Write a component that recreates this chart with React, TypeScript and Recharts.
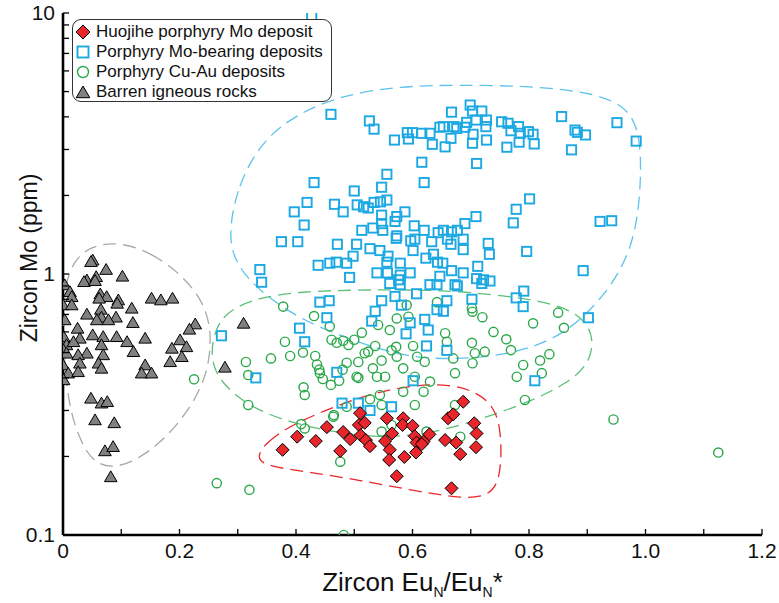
import React from 'react';
import { ScatterChart, Scatter, XAxis, YAxis, Legend, Label } from 'recharts';

// ---------------- data (x = Zircon EuN/EuN*, y = Zircon Mo ppm) ----------------
const huojihe: [number, number][] = [
  [0.377, 0.212], [0.402, 0.238], [0.434, 0.229], [0.453, 0.259], [0.476, 0.21], [0.481, 0.248],
  [0.493, 0.233], [0.51, 0.293], [0.508, 0.264], [0.518, 0.269], [0.511, 0.241], [0.52, 0.231],
  [0.527, 0.219], [0.556, 0.28], [0.553, 0.229], [0.561, 0.212], [0.565, 0.245], [0.56, 0.194],
  [0.584, 0.28], [0.583, 0.264], [0.6, 0.262], [0.586, 0.199], [0.573, 0.168], [0.604, 0.239],
  [0.607, 0.226], [0.606, 0.207], [0.619, 0.228], [0.629, 0.243], [0.616, 0.223], [0.656, 0.231],
  [0.661, 0.28], [0.67, 0.29], [0.675, 0.226], [0.682, 0.204], [0.687, 0.324], [0.706, 0.268],
  [0.71, 0.245], [0.709, 0.217], [0.667, 0.151],
];

const moBearing: [number, number][] = [
  [0.427, 9.68],
  [0.46, 4.09], [0.526, 3.86], [0.534, 3.59], [0.569, 3.26], [0.591, 3.48], [0.593, 3.29], [0.6, 3.48],
  [0.616, 3.46], [0.63, 3.46], [0.634, 3.14], [0.647, 3.65], [0.653, 3.67], [0.656, 3.07], [0.667, 4.17],
  [0.666, 3.31], [0.671, 3.67], [0.676, 3.61], [0.69, 3.65], [0.693, 3.81], [0.699, 4.44], [0.703, 4.21],
  [0.719, 4.21], [0.709, 3.89], [0.704, 3.43], [0.703, 3.17], [0.727, 3.89], [0.726, 3.67], [0.727, 3.26],
  [0.71, 2.65], [0.616, 2.68], [0.556, 2.41], [0.753, 3.83], [0.764, 3.78], [0.769, 3.54], [0.782, 3.67],
  [0.785, 3.46], [0.799, 3.51], [0.807, 3.43], [0.783, 3.2], [0.809, 3.15], [0.762, 3.06], [0.856, 4.01],
  [0.879, 3.56], [0.883, 3.49], [0.897, 3.41], [0.873, 2.99], [0.951, 3.8], [0.984, 3.23],
  [0.431, 2.24], [0.62, 2.24], [0.5, 2.08], [0.547, 2.15], [0.419, 1.88], [0.397, 1.73], [0.466, 1.85],
  [0.481, 1.73], [0.505, 1.84], [0.516, 1.81], [0.524, 1.79], [0.534, 1.88], [0.545, 1.89], [0.556, 1.92],
  [0.547, 1.68], [0.573, 1.66], [0.587, 1.73], [0.414, 1.54], [0.547, 1.56], [0.57, 1.59], [0.603, 1.53],
  [0.513, 1.47], [0.532, 1.5], [0.549, 1.47], [0.573, 1.4], [0.62, 1.47], [0.644, 1.44], [0.653, 1.47],
  [0.667, 1.45], [0.677, 1.47], [0.69, 1.56], [0.709, 1.66], [0.773, 1.57], [0.778, 1.77], [0.801, 1.94],
  [0.922, 1.59], [0.942, 1.6], [0.375, 1.33], [0.403, 1.33], [0.471, 1.3], [0.504, 1.3], [0.527, 1.25],
  [0.544, 1.23], [0.572, 1.37], [0.597, 1.34], [0.604, 1.36], [0.633, 1.33], [0.66, 1.36], [0.687, 1.36],
  [0.601, 1.23], [0.636, 1.19], [0.666, 1.3], [0.687, 1.24], [0.73, 1.31], [0.732, 1.19], [0.796, 1.22],
  [0.438, 1.08], [0.458, 1.1], [0.469, 1.11], [0.487, 1.1], [0.498, 1.17], [0.558, 1.17], [0.556, 1.11],
  [0.579, 1.1], [0.623, 1.15], [0.643, 1.11], [0.652, 1.1], [0.667, 1.03], [0.687, 1.01], [0.712, 1.07],
  [0.492, 0.97], [0.539, 1.01], [0.557, 1.01], [0.579, 0.99], [0.596, 1.01], [0.647, 0.98], [0.71, 0.96],
  [0.722, 0.95], [0.733, 0.94], [0.63, 0.91], [0.642, 0.91], [0.677, 0.9], [0.579, 0.91], [0.893, 1.03],
  [0.338, 1.04], [0.341, 0.93], [0.791, 0.86], [0.441, 0.78], [0.457, 0.79], [0.547, 0.79], [0.57, 0.82],
  [0.536, 0.72], [0.607, 0.84], [0.659, 0.79], [0.653, 0.72], [0.673, 0.91], [0.453, 0.68], [0.576, 0.95],
  [0.778, 0.81], [0.79, 0.75], [0.702, 0.8], [0.902, 0.68], [0.272, 0.58], [0.331, 0.4], [0.406, 0.62],
  [0.415, 0.55], [0.47, 0.42], [0.479, 0.32], [0.507, 0.32], [0.527, 0.3], [0.581, 0.76], [0.561, 0.92],
  [0.53, 0.66], [0.596, 0.65], [0.589, 0.59], [0.621, 0.67], [0.627, 0.61], [0.624, 0.53], [0.659, 0.51],
  [0.642, 0.73], [0.601, 0.39], [0.81, 0.39], [0.719, 0.92], [0.564, 0.31],
];

const cuAu: [number, number][] = [
  [0.378, 0.75], [0.431, 0.69], [0.458, 0.63], [0.381, 0.55], [0.357, 0.475], [0.314, 0.46], [0.318, 0.41],
  [0.225, 0.395], [0.318, 0.315], [0.39, 0.485], [0.412, 0.5], [0.433, 0.485], [0.436, 0.45], [0.44, 0.43],
  [0.446, 0.396], [0.46, 0.376], [0.413, 0.368], [0.415, 0.344], [0.461, 0.56], [0.47, 0.545], [0.481, 0.555],
  [0.49, 0.535], [0.5, 0.56], [0.513, 0.596], [0.487, 0.457], [0.48, 0.43], [0.474, 0.39], [0.507, 0.46],
  [0.507, 0.4], [0.518, 0.497], [0.524, 0.504], [0.536, 0.53], [0.532, 0.435], [0.547, 0.466], [0.541, 0.638],
  [0.539, 0.404], [0.553, 0.404], [0.564, 0.51], [0.572, 0.526], [0.573, 0.482], [0.561, 0.61], [0.573, 0.676],
  [0.584, 0.435], [0.593, 0.686], [0.59, 0.76], [0.601, 0.53], [0.608, 0.482], [0.621, 0.461], [0.604, 0.404],
  [0.63, 0.387], [0.584, 0.354], [0.619, 0.354], [0.642, 0.78], [0.656, 0.593], [0.659, 0.55], [0.67, 0.475],
  [0.673, 0.417], [0.702, 0.74], [0.703, 0.717], [0.72, 0.683], [0.702, 0.545], [0.707, 0.497], [0.703, 0.455],
  [0.724, 0.504], [0.739, 0.6], [0.761, 0.562], [0.769, 0.511], [0.807, 0.647], [0.85, 0.711], [0.86, 0.622],
  [0.79, 0.448], [0.779, 0.404], [0.819, 0.466], [0.822, 0.417], [0.835, 0.493], [0.793, 0.329], [0.604, 0.315],
  [0.544, 0.344], [0.547, 0.315], [0.527, 0.331], [0.487, 0.31], [0.465, 0.288], [0.409, 0.266], [0.673, 0.315],
  [0.504, 0.404], [0.415, 0.256], [0.464, 0.284], [0.547, 0.249], [0.564, 0.264], [0.624, 0.249], [0.682, 0.238],
  [0.476, 0.191], [0.32, 0.149], [0.264, 0.158], [0.482, 0.1], [0.945, 0.277], [1.125, 0.207], [0.441, 0.417],
];

const barren: [number, number][] = [
  [0.051, 1.13], [0.048, 1.115], [0.074, 1.04], [0.102, 0.98], [0.041, 0.948], [0.057, 0.976], [0.036, 0.934],
  [0.055, 0.943], [0.003, 0.908], [0.012, 0.855], [0.015, 0.818], [0.064, 0.838], [0.075, 0.818], [0.062, 0.807],
  [0.095, 0.795], [0.093, 0.772], [0.152, 0.807], [0.168, 0.795], [0.188, 0.807], [0.0, 0.761], [0.015, 0.761],
  [0.118, 0.739], [0.041, 0.701], [0.065, 0.732], [0.066, 0.683], [0.058, 0.667], [0.091, 0.683], [0.078, 0.667],
  [0.12, 0.651], [0.0, 0.676], [0.003, 0.667], [0.227, 0.643], [0.217, 0.614], [0.31, 0.647], [0.025, 0.619],
  [0.029, 0.567], [0.051, 0.584], [0.069, 0.575], [0.092, 0.575], [0.11, 0.55], [0.141, 0.567], [0.001, 0.575],
  [0.006, 0.535], [0.018, 0.55], [0.066, 0.535], [0.041, 0.497], [0.069, 0.49], [0.121, 0.504], [0.201, 0.559],
  [0.212, 0.526], [0.187, 0.519], [0.204, 0.482], [0.184, 0.461], [0.001, 0.511], [0.006, 0.497], [0.026, 0.49],
  [0.029, 0.455], [0.061, 0.455], [0.066, 0.435], [0.141, 0.448], [0.135, 0.417], [0.152, 0.417], [0.0, 0.448],
  [0.009, 0.417], [0.026, 0.422], [0.001, 0.393], [0.278, 0.439], [0.048, 0.334], [0.066, 0.32], [0.076, 0.324],
  [0.055, 0.276], [0.088, 0.269], [0.072, 0.21], [0.086, 0.218], [0.082, 0.167],
];

// dashed field outlines (closed)
const outlineMo: [number, number][] = [
  [0.283, 1.41], [0.3, 2.19], [0.34, 3.2], [0.4, 4.1], [0.48, 4.85], [0.579, 5.25], [0.682, 5.3],
  [0.802, 5.25], [0.915, 4.95], [0.972, 4.3], [0.99, 3.41], [0.993, 2.39], [0.985, 1.47], [0.958, 1.02],
  [0.913, 0.75], [0.853, 0.57], [0.767, 0.49], [0.673, 0.47], [0.587, 0.48], [0.493, 0.56], [0.407, 0.67],
  [0.34, 0.85], [0.297, 1.08],
];
const outlineCuAu: [number, number][] = [
  [0.255, 0.544], [0.27, 0.69], [0.321, 0.8], [0.407, 0.86], [0.527, 0.87], [0.647, 0.87], [0.767, 0.825],
  [0.856, 0.76], [0.9, 0.66], [0.912, 0.544], [0.9, 0.443], [0.864, 0.38], [0.802, 0.324], [0.716, 0.277],
  [0.63, 0.244], [0.544, 0.235], [0.458, 0.249], [0.381, 0.273], [0.318, 0.313], [0.275, 0.376], [0.256, 0.448],
];
const outlineHuojihe: [number, number][] = [
  [0.33, 0.197], [0.35, 0.228], [0.39, 0.262], [0.458, 0.306], [0.527, 0.347], [0.596, 0.374], [0.664, 0.38],
  [0.715, 0.35], [0.742, 0.303], [0.751, 0.253], [0.753, 0.194], [0.746, 0.153], [0.721, 0.139], [0.673, 0.139],
  [0.596, 0.149], [0.51, 0.162], [0.424, 0.174], [0.352, 0.183],
];
const outlineBarren: [number, number][] = [
  [0.094, 1.33], [0.152, 1.21], [0.207, 0.98], [0.243, 0.77], [0.256, 0.584], [0.248, 0.405], [0.212, 0.29],
  [0.168, 0.226], [0.124, 0.192], [0.084, 0.18], [0.052, 0.19], [0.03, 0.228], [0.012, 0.3], [0.003, 0.429],
  [0.0, 0.667], [0.003, 0.908], [0.019, 1.13], [0.048, 1.28],
];

const xTicks = [0, 0.1, 0.2, 0.3, 0.4, 0.5, 0.6, 0.7, 0.8, 0.9, 1.0, 1.1, 1.2];
const xMajor = [0, 0.2, 0.4, 0.6, 0.8, 1.0, 1.2];
const xLabels = ['0', '0.2', '0.4', '0.6', '0.8', '1.0', '1.2'];
const yTicks = [0.1, 0.2, 0.3, 0.4, 0.5, 0.6, 0.7, 0.8, 0.9, 1, 2, 3, 4, 5, 6, 7, 8, 9, 10];
const yMajor = [0.1, 1, 10];
const yLabels = ['0.1', '1', '10'];

const legendLabels = [
  'Huojihe porphyry Mo deposit',
  'Porphyry Mo-bearing deposits',
  'Porphyry Cu-Au deposits',
  'Barren igneous rocks',
];

// ---------------- styling / layout ----------------
const W = 779;
const H = 603;
const MARGIN = { top: 13, right: 17, bottom: 0, left: 0 };
const Y_AXIS_W = 63;
const X_AXIS_H = 68;
const PLOT_LEFT = MARGIN.left + Y_AXIS_W;
const PLOT_BOTTOM = H - MARGIN.bottom - X_AXIS_H;
const FONT = "'Liberation Sans', Arial, Helvetica, sans-serif";
const NARROW = "'Liberation Sans Narrow', 'Arial Narrow', 'Liberation Sans', Arial, sans-serif";

const RED = '#e8262b';
const BLUE = '#1ca8e2';
const GREEN = '#2ba84a';
const GRAY = '#808080';

const toPts = (a: [number, number][]) => a.map(([x, y]) => ({ x, y }));

const Diamond = ({ cx, cy, s = 6.5 }: any) => (
  <polygon
    points={`${cx},${cy - s} ${cx + s},${cy} ${cx},${cy + s} ${cx - s},${cy}`}
    fill={RED}
    stroke="#000"
    strokeWidth={1}
  />
);
const Square = ({ cx, cy, s = 4.6 }: any) => (
  <rect x={cx - s} y={cy - s} width={2 * s} height={2 * s} fill="none" stroke={BLUE} strokeWidth={1.9} />
);
const Circ = ({ cx, cy, r = 4.6 }: any) => (
  <circle cx={cx} cy={cy} r={r} fill="none" stroke={GREEN} strokeWidth={1.4} />
);
const Tri = ({ cx, cy, s = 6 }: any) => (
  <polygon
    points={`${cx},${cy - s} ${cx + s * 1.05},${cy + s * 0.8} ${cx - s * 1.05},${cy + s * 0.8}`}
    fill={GRAY}
    stroke="#000"
    strokeWidth={1}
  />
);
const Nothing = () => <g />;

const XTick = (props: any) => {
  const { x, payload } = props;
  const v = payload.value;
  const idx = xMajor.findIndex((m) => Math.abs(m - v) < 1e-6);
  return (
    <g>
      <line x1={x} x2={x} y1={PLOT_BOTTOM} y2={PLOT_BOTTOM - 6} stroke="#000" strokeWidth={1.3} />
      {idx >= 0 && (
        <text x={x} y={PLOT_BOTTOM + 23} textAnchor="middle" fontFamily={NARROW} fontSize={21} fill="#111">
          {xLabels[idx]}
        </text>
      )}
    </g>
  );
};

const YTick = (props: any) => {
  const { y, payload } = props;
  const v = payload.value;
  const idx = yMajor.findIndex((m) => Math.abs(m - v) < 1e-9);
  return (
    <g>
      <line x1={PLOT_LEFT} x2={PLOT_LEFT + 6} y1={y} y2={y} stroke="#000" strokeWidth={1.3} />
      {idx >= 0 && (
        <text x={PLOT_LEFT - 8} y={y} dy={7} textAnchor="end" fontFamily={NARROW} fontSize={21} fill="#111">
          {yLabels[idx]}
        </text>
      )}
    </g>
  );
};

const XTitle = (props: any) => {
  const vb = props.viewBox || {};
  const cx = vb.x + vb.width / 2;
  const y = vb.y + 56;
  return (
    <text x={cx} y={y} textAnchor="middle" fontFamily={FONT} fontSize={26} fill="#111">
      Zircon Eu
      <tspan fontSize={14} dy={6}>N</tspan>
      <tspan dy={-6}>/Eu</tspan>
      <tspan fontSize={14} dy={6}>N</tspan>
      <tspan dy={-6}>*</tspan>
    </text>
  );
};

const YTitle = (props: any) => {
  const vb = props.viewBox || {};
  const cx = 29;
  const cy = vb.y + vb.height / 2 - 16;
  return (
    <text
      x={cx}
      y={cy}
      transform={`rotate(-90 ${cx} ${cy})`}
      textAnchor="middle"
      dominantBaseline="central"
      fontFamily={FONT}
      fontSize={23}
      fill="#111"
    >
      Zircon Mo (ppm)
    </text>
  );
};

const legendMarkers = [
  <Diamond cx={10} cy={10} s={7} />,
  <Square cx={10} cy={10} s={5.5} />,
  <Circ cx={10} cy={10} r={5.5} />,
  <Tri cx={10} cy={10.5} s={6.5} />,
];

const LegendBox = () => (
  <div
    style={{
      width: 260,
      height: 83,
      boxSizing: 'border-box',
      border: '1.4px solid #333',
      borderRadius: 9,
      background: '#fff',
      padding: '2px 0 0 0',
      fontFamily: FONT,
      fontSize: 17,
      color: '#111',
    }}
  >
    {legendLabels.map((lab, i) => (
      <div key={lab} style={{ display: 'flex', alignItems: 'center', height: 20, whiteSpace: 'nowrap' }}>
        <svg width={22} height={20} style={{ flex: 'none' }}>
          {legendMarkers[i]}
        </svg>
        <span style={{ marginLeft: 1 }}>{lab}</span>
      </div>
    ))}
  </div>
);

const dashLine = (color: string) => ({ stroke: color, strokeWidth: 1.3, strokeDasharray: '13 7', fill: 'none' });

export default function App() {
  return (
    <div style={{ position: 'absolute', left: 0, top: 0, width: W, height: H, background: '#fff' }}>
      <ScatterChart width={W} height={H} margin={MARGIN}>
        <XAxis
          dataKey="x"
          type="number"
          domain={[0, 1.2]}
          ticks={xTicks}
          interval={0}
          height={X_AXIS_H}
          tick={<XTick />}
          tickLine={false}
          axisLine={{ stroke: '#000', strokeWidth: 2.6 }}
          allowDataOverflow
        >
          <Label content={<XTitle />} />
        </XAxis>
        <XAxis
          xAxisId="top"
          orientation="top"
          dataKey="x"
          type="number"
          domain={[0, 1.2]}
          height={0}
          tick={false}
          tickLine={false}
          axisLine={{ stroke: '#000', strokeWidth: 2.6 }}
        />
        <YAxis
          dataKey="y"
          type="number"
          scale="log"
          domain={[0.1, 10]}
          ticks={yTicks}
          interval={0}
          width={Y_AXIS_W}
          tick={<YTick />}
          tickLine={false}
          axisLine={{ stroke: '#000', strokeWidth: 2.6 }}
          allowDataOverflow
        >
          <Label content={<YTitle />} />
        </YAxis>
        <YAxis
          yAxisId="right"
          orientation="right"
          dataKey="y"
          type="number"
          scale="log"
          domain={[0.1, 10]}
          width={0}
          tick={false}
          tickLine={false}
          axisLine={{ stroke: '#000', strokeWidth: 2.6 }}
        />
        <Legend
          layout="vertical"
          align="center"
          verticalAlign="middle"
          content={<LegendBox />}
          wrapperStyle={{ position: 'absolute', left: 72, top: 19, width: 262, height: 85 }}
        />

        <Scatter
          name="outline-mo"
          data={toPts(outlineMo)}
          shape={<Nothing />}
          line={dashLine('#5cc3ec')}
          lineType="joint"
          lineJointType="basisClosed"
          legendType="none"
          isAnimationActive={false}
        />
        <Scatter
          name="outline-cuau"
          data={toPts(outlineCuAu)}
          shape={<Nothing />}
          line={dashLine('#5bbf78')}
          lineType="joint"
          lineJointType="basisClosed"
          legendType="none"
          isAnimationActive={false}
        />
        <Scatter
          name="outline-barren"
          data={toPts(outlineBarren)}
          shape={<Nothing />}
          line={dashLine('#a8a8a8')}
          lineType="joint"
          lineJointType="basisClosed"
          legendType="none"
          isAnimationActive={false}
        />
        <Scatter
          name="outline-huojihe"
          data={toPts(outlineHuojihe)}
          shape={<Nothing />}
          line={dashLine('#e8262b')}
          lineType="joint"
          lineJointType="basisClosed"
          legendType="none"
          isAnimationActive={false}
        />

        <Scatter name={legendLabels[2]} data={toPts(cuAu)} shape={<Circ />} isAnimationActive={false} />
        <Scatter name={legendLabels[1]} data={toPts(moBearing)} shape={<Square />} isAnimationActive={false} />
        <Scatter name={legendLabels[3]} data={toPts(barren)} shape={<Tri />} isAnimationActive={false} />
        <Scatter name={legendLabels[0]} data={toPts(huojihe)} shape={<Diamond />} isAnimationActive={false} />
      </ScatterChart>
    </div>
  );
}
